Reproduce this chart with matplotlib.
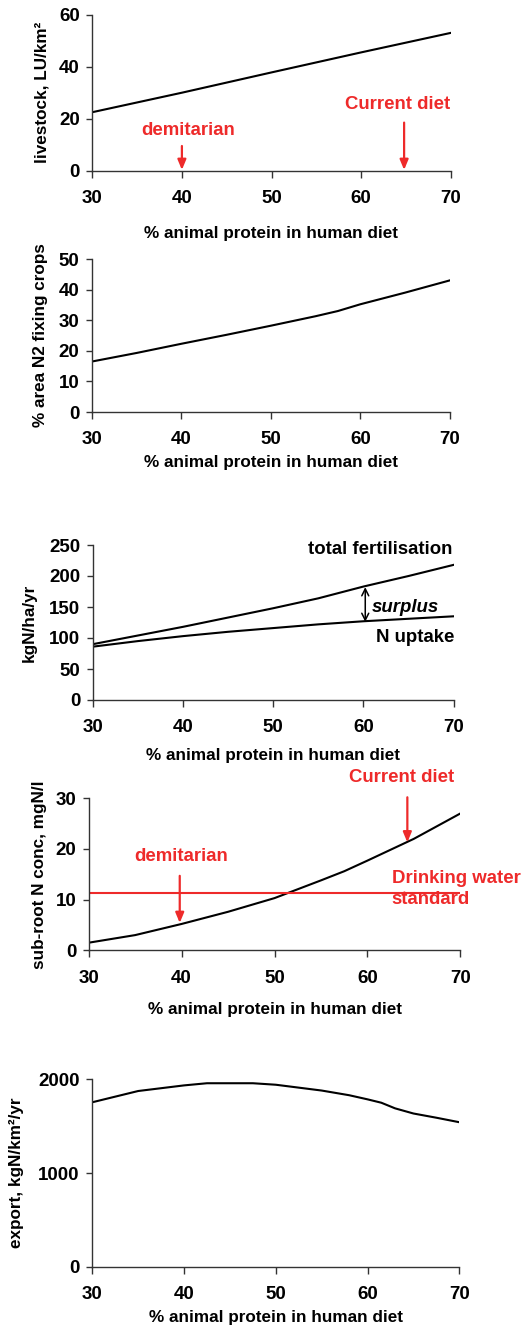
import matplotlib
matplotlib.use("Agg")
import matplotlib.pyplot as plt

plt.rcParams['font.family'] = ['Liberation Sans', 'DejaVu Sans']
plt.rcParams['font.weight'] = 'bold'

RED = '#ee2a2a'
XLABEL = '% animal protein in human diet'
xticks = [30, 40, 50, 60, 70]

# Panel 1: livestock
x_live = [30, 40, 50, 60, 70]
y_live = [22.5, 30.0, 37.8, 45.5, 53.0]
# Panel 2: % area N2 fixing crops
x_fix = [30, 35, 40, 45, 50, 55, 57.5, 60, 65, 70]
y_fix = [16.5, 19.3, 22.3, 25.2, 28.2, 31.3, 33.0, 35.2, 39.0, 43.0]
# Panel 3: fertilisation and uptake
x_fert = [30, 35, 40, 45, 50, 55, 60, 65, 70]
y_fert = [90, 104, 118, 133, 148, 164, 183, 200, 218]
x_upt = [30, 35, 40, 45, 50, 55, 60, 65, 70]
y_upt = [86, 95, 103, 110, 116, 122, 127, 131, 135]
# Panel 4: sub-root N concentration
x_conc = [30, 35, 40, 45, 50, 55, 57.5, 60, 65, 70]
y_conc = [1.5, 3.0, 5.2, 7.6, 10.3, 13.8, 15.6, 17.7, 22.0, 27.0]
dw_standard = 11.3
# Panel 5: export
x_exp = [30, 35, 40, 42.5, 47.5, 50, 55, 58, 60, 61.5, 63, 65, 67.5, 70]
y_exp = [1755, 1875, 1935, 1958, 1958, 1942, 1880, 1830, 1786, 1750, 1690, 1635, 1590, 1542]

TICK_FS = 13.5
LAB_FS = 12.3
ANN_FS = 13.4

fig = plt.figure(figsize=(5.27, 13.28), dpi=100)

def style(ax, ylim, yticks, ylabel, lp_x, lp_y=4):
    ax.set_xlim(30, 70)
    ax.set_ylim(*ylim)
    ax.set_xticks(xticks)
    ax.set_yticks(yticks)
    for s in ['top', 'right']:
        ax.spines[s].set_visible(False)
    for s in ['left', 'bottom']:
        ax.spines[s].set_color('#333333')
        ax.spines[s].set_linewidth(1.0)
    ax.tick_params(axis='x', direction='out', length=5, width=1, pad=9, labelsize=TICK_FS, color='#333333')
    ax.tick_params(axis='y', direction='out', length=4, width=1, pad=5, labelsize=TICK_FS, color='#333333')
    for lab in ax.get_xticklabels() + ax.get_yticklabels():
        lab.set_fontweight('bold')
    ax.set_xlabel(XLABEL, fontsize=LAB_FS, fontweight='bold', labelpad=lp_x)
    ax.set_ylabel(ylabel, fontsize=LAB_FS, fontweight='bold', labelpad=lp_y)

def red_arrow(ax, x, y0, y1):
    ax.annotate('', xy=(x, y1), xytext=(x, y0),
                arrowprops=dict(arrowstyle='-|>,head_length=0.6,head_width=0.25',
                                color=RED, lw=1.6, shrinkA=0, shrinkB=0))

# Panel 1
ax1 = fig.add_axes([92.3/527, 1-170.7/1328, 358.4/527, 156/1328])
ax1.plot(x_live, y_live, color='black', lw=1.5)
style(ax1, (0, 60), [0, 20, 40, 60], 'livestock, LU/km²', 13.5, 7)
ax1.text(40.7, 15.3, 'demitarian', color=RED, fontsize=ANN_FS, fontweight='bold', ha='center', va='center')
red_arrow(ax1, 40, 9.5, 0.3)
ax1.text(64.1, 25.6, 'Current diet', color=RED, fontsize=ANN_FS, fontweight='bold', ha='center', va='center')
red_arrow(ax1, 64.8, 18.5, 0.3)

# Panel 2
ax2 = fig.add_axes([92/527, 1-412/1328, 357.7/527, 153/1328])
ax2.plot(x_fix, y_fix, color='black', lw=1.5)
style(ax2, (0, 50), [0, 10, 20, 30, 40, 50], '% area N2 fixing crops', 5, 8)

# Panel 3
ax3 = fig.add_axes([92.7/527, 1-700/1328, 361/527, 155/1328])
ax3.plot(x_fert, y_fert, color='black', lw=1.5)
ax3.plot(x_upt, y_upt, color='black', lw=1.5)
style(ax3, (0, 250), [0, 50, 100, 150, 200, 250], 'kgN/ha/yr', 8, 9)
ax3.annotate('', xy=(60.2, 182), xytext=(60.2, 126),
             arrowprops=dict(arrowstyle='<->,head_length=0.5,head_width=0.25',
                             color='black', lw=1.1, shrinkA=0, shrinkB=0))
ax3.text(60.9, 150, 'surplus', style='italic', fontsize=ANN_FS, fontweight='bold', ha='left', va='center')
ax3.text(69.8, 243, 'total fertilisation', fontsize=ANN_FS, fontweight='bold', ha='right', va='center')
ax3.text(70.1, 101, 'N uptake', fontsize=ANN_FS, fontweight='bold', ha='right', va='center')

# Panel 4
ax4 = fig.add_axes([88.7/527, 1-950.3/1328, 371.6/527, 152/1328])
ax4.plot(x_conc, y_conc, color='black', lw=1.5)
ax4.plot([30, 70], [dw_standard, dw_standard], color=RED, lw=1.5)
style(ax4, (0, 30), [0, 10, 20, 30], 'sub-root N conc, mgN/l', 11, 6)
ax4.text(40, 18.6, 'demitarian', color=RED, fontsize=ANN_FS, fontweight='bold', ha='center', va='center')
red_arrow(ax4, 39.8, 14.7, 5.4)
ax4.text(63.7, 34.2, 'Current diet', color=RED, fontsize=ANN_FS, fontweight='bold', ha='center', va='center')
red_arrow(ax4, 64.3, 30.2, 21.3)
ax4.text(62.6, 12.1, 'Drinking water\nstandard', color=RED, fontsize=ANN_FS, fontweight='bold',
         ha='left', va='center', linespacing=1.25)

# Panel 5
ax5 = fig.add_axes([92.3/527, 1-1266.7/1328, 367/527, 187.4/1328])
ax5.plot(x_exp, y_exp, color='black', lw=1.5)
style(ax5, (0, 2000), [0, 1000, 2000], 'export, kgN/km²/yr', 5, 10)

fig.savefig('out.png', dpi=100)
